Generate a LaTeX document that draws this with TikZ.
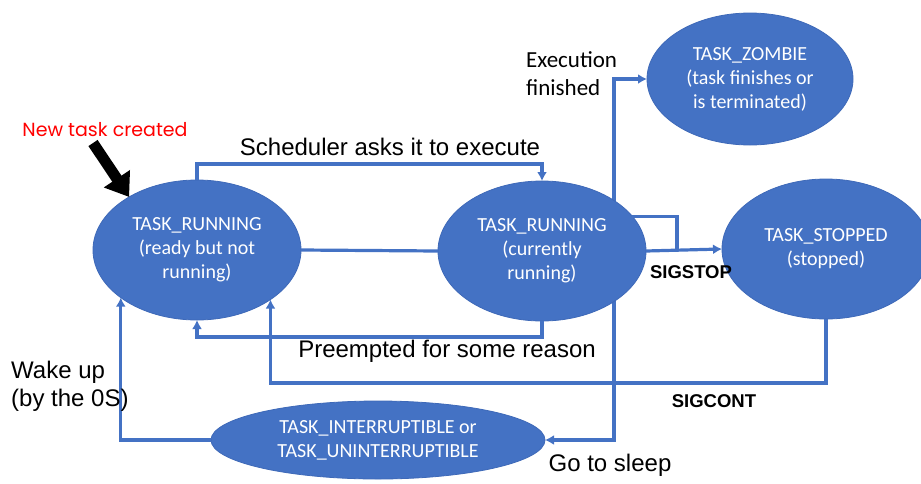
\documentclass[tikz,border=0pt]{standalone}
\usepackage{fontspec}
\setmainfont{Liberation Sans}
\newfontfamily\calibrifont{Carlito}
\newfontfamily\handfont{Poppins}
\usetikzlibrary{shapes.geometric, arrows.meta, backgrounds, calc}

\definecolor{stateblue}{HTML}{4472C4}
\definecolor{stateedge}{HTML}{3E69B8}
\definecolor{newred}{HTML}{FF0000}

\tikzset{
	state/.style = {ellipse, fill = stateblue, draw = stateedge, line width = 0.8pt,
		inner sep = 0pt, outer sep = 0pt, align = center, text = white,
		font = \calibrifont\fontsize{20}{24}\selectfont},
	flow/.style = {draw = stateblue, line width = 3.2pt},
	lbl/.style = {inner sep = 0pt, font = \fontsize{24}{28}\selectfont},
	siglbl/.style = {inner sep = 0pt, font = \bfseries\fontsize{18.5}{22}\selectfont}
}

\begin{document}
\begin{tikzpicture}[> = {Latex[length = 9pt, width = 10pt]}, x = 1pt, y = -1pt]

	% Definitions

	\def\stw{208}		% width of the small states
	\def\sth{140}		% height of the small states
	\def\exitx{72}		% offset of the line leaving the running state

	\useasboundingbox (0, 0) rectangle (921, 483);


	% States

	\node [state, minimum width = \stw pt, minimum height = \sth pt] (ready) at (197, 250)
		{TASK\_RUNNING\\(ready but not\\running)};
	\node [state, minimum width = \stw pt, minimum height = \sth pt] (running) at (542, 251)
		{TASK\_RUNNING\\(currently\\running)};
	\node [state, minimum width = 206pt, minimum height = 132pt] (zombie) at (750, 79)
		{TASK\_ZOMBIE\\(task finishes or\\is terminated)};
	\node [state, minimum width = \stw pt, minimum height = \sth pt] (stopped) at (826, 249)
		{TASK\_STOPPED\\(stopped)};
	\node [state, minimum width = 334pt, minimum height = 78pt] (sleep) at (378, 440)
		{TASK\_INTERRUPTIBLE or\\TASK\_UNINTERRUPTIBLE};


	% Transitions

	% The exit line runs behind the running state
	\begin{pgfonlayer}{background}
		\draw [flow, ->] ($(running.center) + (\exitx, 0)$) |- (zombie.west);
		\draw [flow, ->] ($(running.center) + (\exitx, 0)$) |- (sleep.east);
	\end{pgfonlayer}

	\draw [flow, ->] (ready.north) -- ++(0, -16) -| (running.north);
	\draw [flow] (ready.east) -- (running.west);
	\draw [flow, ->] (running.south) -- ++(0, 16) -| (ready.south);
	\draw [flow, ->] (running.east) -- (stopped.west);
	\coordinate (stopjoin) at (677, 249);
	\draw [flow] (running.21) -| (stopjoin);
	\draw [flow, ->] (stopped.south) -- ++(0, 64) -| (ready.-34);
	\draw [flow, ->] (sleep.west) -| (ready.-148);

	% New task arrow
	\coordinate (newtail) at (93, 143);
	\draw [line width = 11pt, -{Triangle[length = 22pt, width = 30pt]}] (newtail) -- (ready.142);


	% Labels

	\node [inner sep = 0pt, text = newred, font = \handfont\fontsize{19}{22}\selectfont] (newlbl)
		at (105, 130) {New task created};
	\node [lbl] (schedlbl) at (390, 147) {Scheduler asks it to execute};
	\node [lbl] (preemptlbl) at (447, 351) {Preempted for some reason};
	\node [lbl, align = left, anchor = west] (wakelbl) at (11, 386) {Wake up\\(by the 0S)};
	\node [lbl] (sleeplbl) at (610, 465) {Go to sleep};
	\node [lbl, align = left, anchor = west, font = \calibrifont\fontsize{23}{28}\selectfont] (exitlbl)
		at (526, 74) {Execution\\finished};
	\node [siglbl] (stoplbl) at (691, 272) {SIGSTOP};
	\node [siglbl] (contlbl) at (714, 401) {SIGCONT};

\end{tikzpicture}
\end{document}
